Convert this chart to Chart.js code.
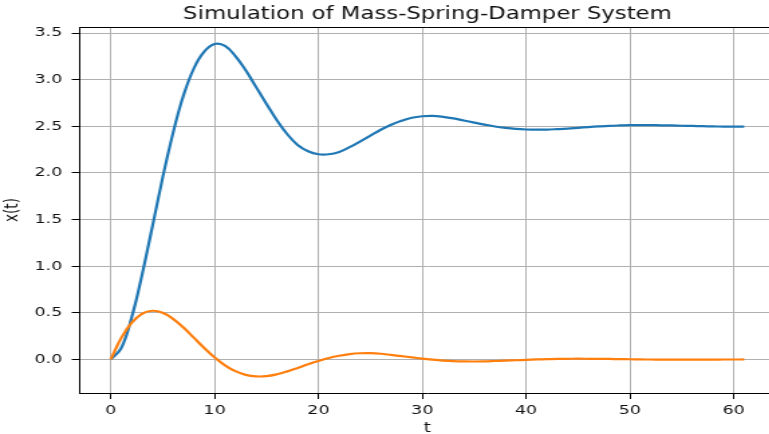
<!DOCTYPE html>
<html>
<head>
<meta charset="utf-8">
<script src="https://cdn.jsdelivr.net/npm/chart.js@4.4.1/dist/chart.umd.min.js"></script>
<style>
  html, body { margin: 0; padding: 0; background: #fff; overflow: hidden; width: 769px; height: 434px; }
  /* the figure is drawn narrow and stretched sideways */
  #wrap { width: 638px; height: 440px; transform: scaleX(1.34); transform-origin: 0 0; }
</style>
</head>
<body>
<div id="wrap"><canvas id="sim" width="638" height="440"></canvas></div>
<script>
// time steps, displacement x(t) and velocity of the damped mass
const times = [0, 1, 2, 3, 4, 5, 6, 7, 8, 9, 10, 11, 12, 13, 14, 15, 16, 17, 18, 19, 20,
  21, 22, 23, 24, 25, 26, 27, 28, 29, 30, 31, 32, 33, 34, 35, 36, 37, 38, 39, 40,
  41, 42, 43, 44, 45, 46, 47, 48, 49, 50, 51, 52, 53, 54, 55, 56, 57, 58, 59, 60, 61];

const position = [0, 0.12, 0.444, 0.90, 1.42, 1.95, 2.43, 2.83, 3.12, 3.30,
  3.382, 3.362, 3.253, 3.10, 2.92, 2.74, 2.565, 2.415, 2.30, 2.232,
  2.2, 2.2, 2.225, 2.276, 2.337, 2.40, 2.463, 2.517, 2.56, 2.592,
  2.608, 2.612, 2.602, 2.585, 2.562, 2.54, 2.518, 2.498, 2.483, 2.472,
  2.466, 2.464, 2.465, 2.47, 2.476, 2.484, 2.492, 2.499, 2.505, 2.509,
  2.512, 2.512, 2.512, 2.511, 2.509, 2.506, 2.504, 2.501, 2.499, 2.497,
  2.496, 2.496];

const velocity = [0, 0.228, 0.392, 0.489, 0.522, 0.500, 0.435, 0.342, 0.233, 0.123,
  0.022, -0.063, -0.126, -0.166, -0.182, -0.179, -0.159, -0.128, -0.091, -0.052,
  -0.016, 0.015, 0.039, 0.057, 0.066, 0.067, 0.061, 0.048, 0.035, 0.022,
  0.009, -0.003, -0.012, -0.018, -0.021, -0.022, -0.021, -0.017, -0.013, -0.009,
  -0.004, 0.000, 0.003, 0.006, 0.007, 0.008, 0.007, 0.006, 0.005, 0.003,
  0.002, 0.000, -0.001, -0.002, -0.002, -0.003, -0.003, -0.002, -0.002, -0.001,
  -0.001, 0.000];

const xTicks = [0, 10, 20, 30, 40, 50, 60];
const yTicks = [0, 0.5, 1, 1.5, 2, 2.5, 3, 3.5];

const FONT = 'DejaVu Sans';
const INK = '#111';

// Chart.js only draws left/bottom borders, add the top and right spines
const frame = {
  id: 'frame',
  afterDraw(chart) {
    const { ctx, chartArea: a } = chart;
    ctx.save();
    ctx.strokeStyle = '#000';
    ctx.lineWidth = 1;
    ctx.beginPath();
    ctx.moveTo(a.left, a.top + 0.5);
    ctx.lineTo(a.right - 0.5, a.top + 0.5);
    ctx.lineTo(a.right - 0.5, a.bottom);
    ctx.stroke();
    ctx.restore();
  }
};

new Chart(document.getElementById('sim'), {
  type: 'line',
  data: {
    datasets: [
      {
        label: 'x',
        data: times.map((t, i) => ({ x: t, y: position[i] })),
        borderColor: '#1f77b4',
        borderWidth: 2.2,
        pointRadius: 0,
        tension: 0.4,
        order: 1
      },
      {
        label: 'v',
        data: times.map((t, i) => ({ x: t, y: velocity[i] })),
        borderColor: '#ff7f0e',
        borderWidth: 2.2,
        pointRadius: 0,
        tension: 0.4,
        order: 0
      }
    ]
  },
  options: {
    responsive: false,
    animation: false,
    devicePixelRatio: 1,
    layout: { padding: { left: 0, right: 59, top: 0, bottom: 0 } },
    plugins: {
      legend: { display: false },
      tooltip: { enabled: false },
      title: {
        display: true,
        text: 'Simulation of Mass-Spring-Damper System',
        fullSize: false,
        color: INK,
        font: { family: FONT, size: 17, weight: 'normal' },
        padding: { top: 4, bottom: 2.6 }
      }
    },
    scales: {
      x: {
        type: 'linear',
        min: -3.05,
        max: 64.05,
        afterBuildTicks: s => { s.ticks = xTicks.map(v => ({ value: v })); },
        afterFit: s => { s.height = 47; },
        grid: { color: '#b0b0b0', lineWidth: 1, tickColor: '#000', tickLength: 6 },
        border: { display: true, color: '#000', width: 1 },
        ticks: {
          color: INK, font: { family: FONT, size: 13 }, padding: 3.5, maxRotation: 0,
          callback: v => String(v)
        },
        title: {
          display: true, text: 't', color: INK,
          font: { family: FONT, size: 13.5 }, padding: { top: 0, bottom: 3 }
        }
      },
      y: {
        min: -0.36,
        max: 3.565,
        afterBuildTicks: s => { s.ticks = yTicks.map(v => ({ value: v })); },
        afterFit: s => { s.width = 59; },
        grid: { color: '#b0b0b0', lineWidth: 1, tickColor: '#000', tickLength: 5.5 },
        border: { display: true, color: '#000', width: 1 },
        ticks: {
          color: INK, font: { family: FONT, size: 13 }, padding: 7,
          callback: v => v.toFixed(1)
        },
        title: {
          display: true, text: 'x(t)', color: INK,
          font: { family: FONT, size: 13.5 }, padding: { top: 1.5, bottom: 0 }
        }
      }
    }
  },
  plugins: [frame]
});
</script>
</body>
</html>
